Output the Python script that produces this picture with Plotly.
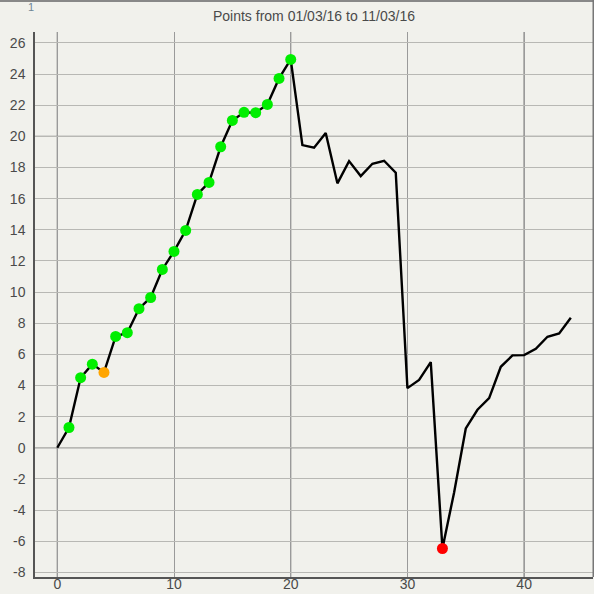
import plotly.graph_objects as go

# ---- data ----
days = list(range(45))
points = [0, 1.30, 4.50, 5.37, 4.84, 7.15, 7.39, 8.93, 9.65, 11.45,
          12.61, 13.96, 16.27, 17.04, 19.33, 21.02, 21.54, 21.52, 22.05, 23.72,
          24.94, 19.44, 19.27, 20.21, 16.98, 18.41, 17.45, 18.24, 18.43, 17.66,
          3.83, 4.35, 5.50, -6.47, -2.87, 1.24, 2.44, 3.19, 5.20, 5.93,
          5.95, 6.36, 7.13, 7.34, 8.35]
marked_days = list(range(1, 21)) + [33]
marked_colors = ["#00ee00"] * 3 + ["#ffa500"] + ["#00ee00"] * 16 + ["#ff0000"]
x_ticks = [0, 10, 20, 30, 40]
y_ticks = list(range(-8, 27, 2))
major_x = [0, 20, 40]
major_y = [0, 20]
title_text = "Points from 01/03/16 to 11/03/16"

W, H = 594, 594
ML, MR, MT, MB = 35, 1, 32, 17
BG = "#f1f1ec"
DARK = "#555555"
TEXT = "#4a4a4a"

fig = go.Figure()
fig.add_trace(go.Scatter(x=days, y=points, mode="lines",
                         line=dict(color="black", width=2.4), hoverinfo="skip",
                         showlegend=False))
fig.add_trace(go.Scatter(x=marked_days, y=[points[d] for d in marked_days],
                         mode="markers",
                         marker=dict(color=marked_colors, size=11, line=dict(width=0)),
                         showlegend=False))

shapes = []
for v in major_x:
    shapes.append(dict(type="line", xref="x", yref="paper", x0=v, x1=v, y0=0, y1=1,
                       line=dict(color=DARK, width=1), layer="below"))
for v in major_y:
    shapes.append(dict(type="line", xref="paper", yref="y", x0=0, x1=1, y0=v, y1=v,
                       line=dict(color=DARK, width=1), layer="below"))
# outer frame (top and right edges of the picture)
pw, ph = W - ML - MR, H - MT - MB
shapes.append(dict(type="line", xref="paper", yref="paper",
                   x0=-ML / pw, x1=1 + MR / pw, y0=1 + (MT - 1) / ph, y1=1 + (MT - 1) / ph,
                   line=dict(color="#888888", width=2)))
shapes.append(dict(type="line", xref="paper", yref="paper",
                   x0=1 + 0.5 / pw, x1=1 + 0.5 / pw, y0=0, y1=1 + MT / ph,
                   line=dict(color="#777777", width=2)))

fig.update_layout(
    width=W, height=H,
    margin=dict(l=ML, r=MR, t=MT, b=MB, pad=0, autoexpand=False),
    paper_bgcolor=BG, plot_bgcolor=BG,
    font=dict(family="Liberation Sans, Arial, sans-serif", size=14, color=TEXT),
    title=dict(text=title_text, x=0.5, xref="paper", y=1 - 16 / H, yanchor="middle",
               xanchor="center", font=dict(size=14, color=TEXT)),
    shapes=shapes,
    annotations=[dict(text="1", xref="paper", yref="paper", x=(31 - ML) / pw,
                      y=1 + (MT - 7) / ph, showarrow=False, xanchor="center",
                      yanchor="middle", font=dict(size=11, color="#6f8796"))],
)
fig.update_xaxes(range=[-1.91, 45.9], tickvals=x_ticks,
                 ticktext=[str(v) for v in x_ticks], showgrid=True,
                 gridcolor="#9a9a9a", gridwidth=1, zeroline=False, automargin=False,
                 showline=True, linecolor=DARK, linewidth=1.5, ticks="",
                 ticklabelstandoff=-7, tickfont=dict(size=14, color=TEXT))
fig.update_yaxes(range=[-8.3, 26.7], tickvals=y_ticks,
                 ticktext=[str(v) for v in y_ticks], showgrid=True,
                 gridcolor="#b8b8b4", gridwidth=1, zeroline=False, automargin=False,
                 showline=True, linecolor=DARK, linewidth=1.5, ticks="",
                 ticklabelstandoff=5, tickfont=dict(size=14, color=TEXT))

fig.write_html("out.html", config={"displayModeBar": False},
               post_script="document.body.style.margin='0px';document.body.style.background='%s';" % BG)
